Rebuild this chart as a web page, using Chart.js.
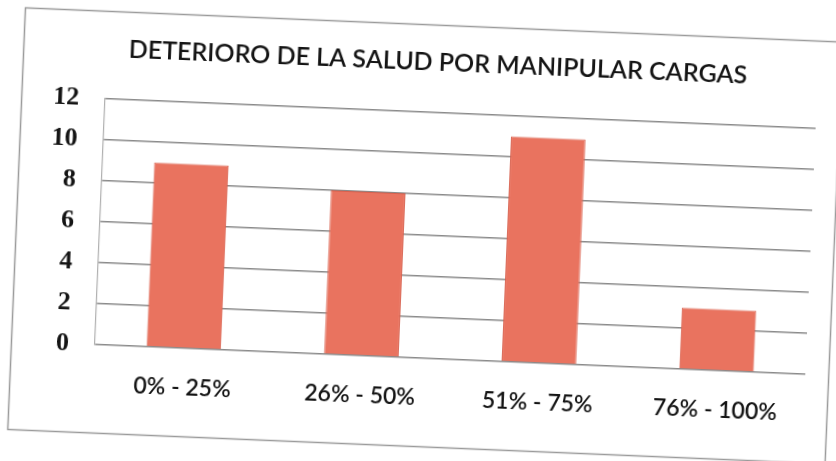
<!DOCTYPE html>
<html>
<head>
<meta charset="utf-8">
<script src="https://cdn.jsdelivr.net/npm/chart.js@4.4.1/dist/chart.umd.min.js"></script>
<style>
html,body{margin:0;padding:0;background:#fff;overflow:hidden;}
#marco{width:836px;height:461px;transform:rotate(2.4deg);transform-origin:418px 230px;}
canvas{display:block;}
</style>
</head>
<body>
<div id="marco"><canvas id="grafico" width="836" height="461"></canvas></div>
<script>
// datos
const TITULO='DETERIORO DE LA SALUD POR MANIPULAR CARGAS';
const CATEGORIAS=['0% - 25%','26% - 50%','51% - 75%','76% - 100%'];
const VALORES=[9,8,11,3];
const EJE_Y={min:0,max:12,paso:2};

const COLOR_BARRA='#e9735f';
const COLOR_BORDE_BARRA='#d8604d';
const COLOR_REJILLA='#8a8a8a';
const COLOR_TEXTO='#141414';

// fondo blanco, recuadro exterior y titulo
const marcoPlugin={
 id:'marco',
 beforeDraw(chart){
  const c=chart.ctx;
  c.save();
  c.fillStyle='#fff';
  c.fillRect(0,0,chart.width,chart.height);
  c.strokeStyle='#9a9a9a';
  c.lineWidth=1.5;
  c.strokeRect(16.5,24.5,818,422);
  c.fillStyle=COLOR_TEXTO;
  c.font='600 25px Lato';
  c.textAlign='center';
  c.textBaseline='middle';
  c.fillText(TITULO,431,62);
  c.restore();
 }
};

new Chart(document.getElementById('grafico').getContext('2d'),{
 type:'bar',
 data:{
  labels:CATEGORIAS,
  datasets:[{
   data:VALORES,
   backgroundColor:COLOR_BARRA,
   borderColor:COLOR_BORDE_BARRA,
   borderWidth:1,
   barPercentage:0.42,
   categoryPercentage:1
  }]
 },
 options:{
  responsive:false,
  animation:false,
  layout:{padding:{top:112,left:14,right:25,bottom:14}},
  plugins:{legend:{display:false},tooltip:{enabled:false},title:{display:false}},
  scales:{
   x:{
    grid:{display:false,drawTicks:false},
    border:{display:false},
    ticks:{color:COLOR_TEXTO,font:{family:'Lato',size:23,weight:'600'},padding:26,maxRotation:0},
    afterFit(s){s.height=89;}
   },
   y:{
    min:EJE_Y.min,max:EJE_Y.max,
    grid:{color:COLOR_REJILLA,lineWidth:1.4,drawTicks:false},
    border:{display:true,color:'#b0b0b0',width:1.2},
    ticks:{stepSize:EJE_Y.paso,color:COLOR_TEXTO,font:{family:'Liberation Serif',size:26,weight:'bold'},padding:26},
    afterFit(s){s.width=86;}
   }
  }
 },
 plugins:[marcoPlugin]
});
</script>
</body>
</html>
